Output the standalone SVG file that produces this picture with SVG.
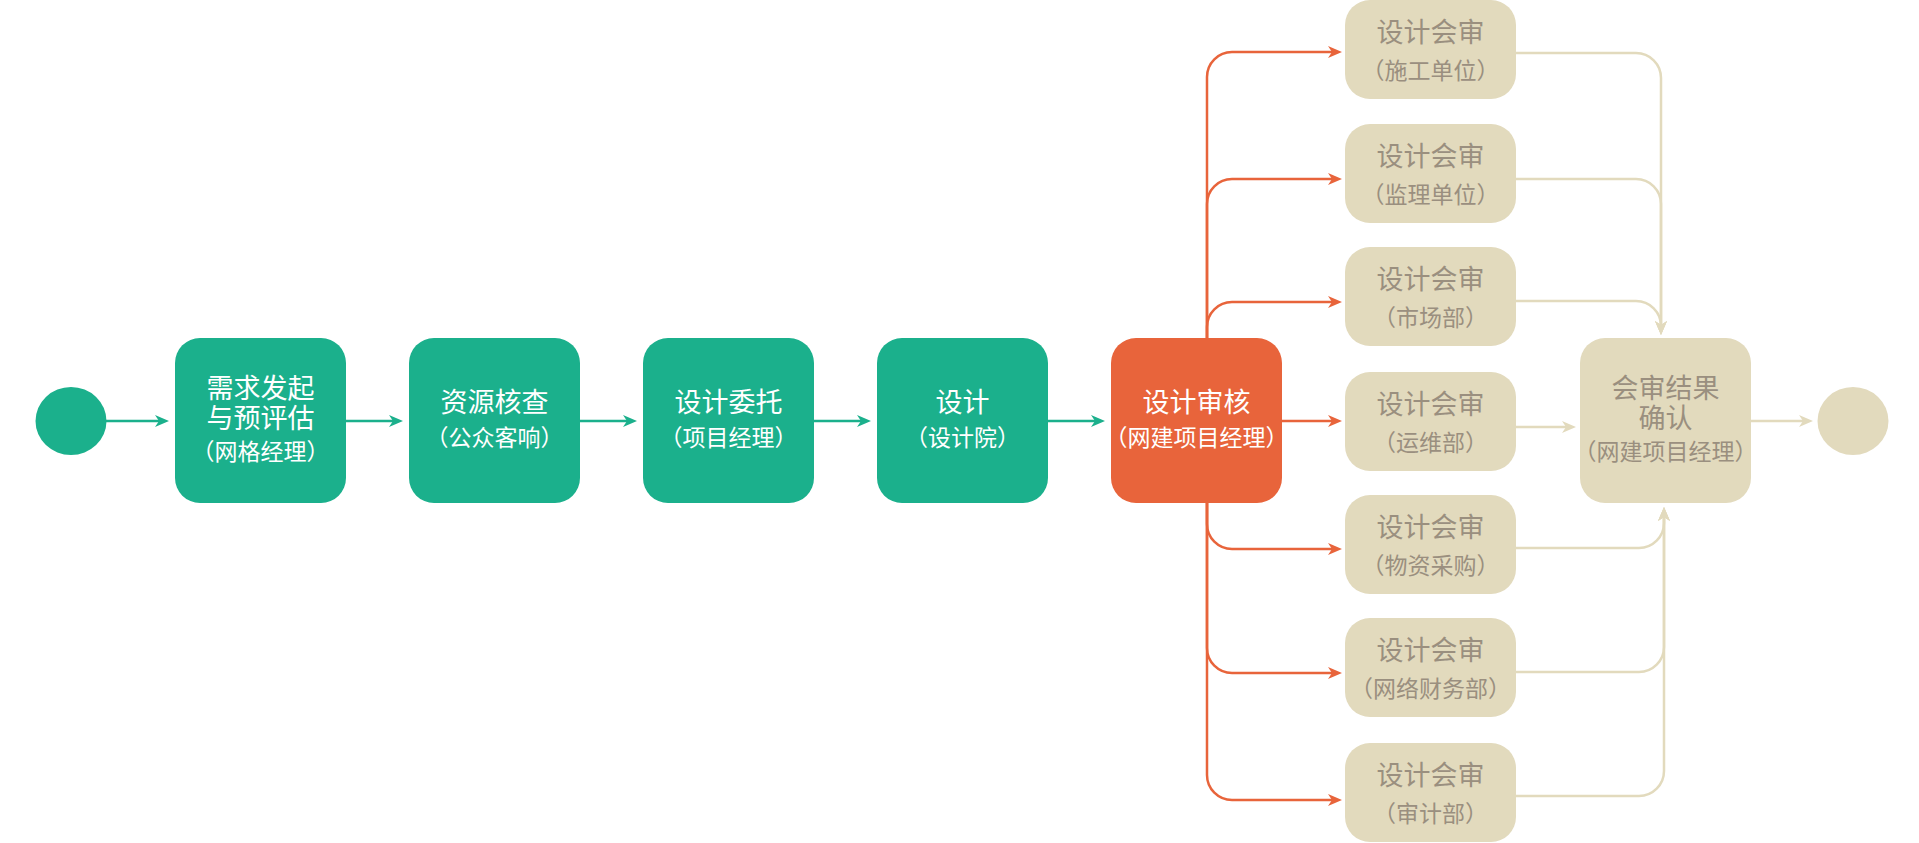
<svg xmlns="http://www.w3.org/2000/svg" width="1919" height="843" viewBox="0 0 1919 843">
  <style>
    .green { fill: #1bb08c; }
    .orange { fill: #e8643b; }
    .beige { fill: #e2dabd; }
    text { font-family: "Noto Sans CJK SC", "Noto Sans", sans-serif; text-anchor: middle; }
    .t { font-size: 27px; }
    .s { font-size: 23px; }
    .light { fill: #ffffff; }
    .dark { fill: #9a8f7f; }
    .ln { fill: none; stroke-width: 2.5; }
    .lg { stroke: #1bb08c; marker-end: url(#ag); }
    .lo { stroke: #e8643b; marker-end: url(#ao); }
    .lb { stroke: #e2dabd; marker-end: url(#ab); }
  </style>
  <defs>
    <marker id="ag" markerUnits="userSpaceOnUse" markerWidth="14" markerHeight="12" refX="6" refY="6" orient="auto">
      <path d="M0,0 L14,6 L0,12 L4,6 Z" fill="#1bb08c"/>
    </marker>
    <marker id="ao" markerUnits="userSpaceOnUse" markerWidth="14" markerHeight="12" refX="6" refY="6" orient="auto">
      <path d="M0,0 L14,6 L0,12 L4,6 Z" fill="#e8643b"/>
    </marker>
    <marker id="ab" markerUnits="userSpaceOnUse" markerWidth="14" markerHeight="12" refX="6" refY="6" orient="auto">
      <path d="M0,0 L14,6 L0,12 L4,6 Z" fill="#e2dabd"/>
    </marker>
  </defs>

  <rect width="1919" height="843" fill="#ffffff"/>

  <!-- connectors -->
  <g id="connectors">
    <!-- main flow -->
    <path class="ln lg" d="M106,421 H161"/>
    <path class="ln lg" d="M346,421 H395"/>
    <path class="ln lg" d="M580,421 H629"/>
    <path class="ln lg" d="M814,421 H863"/>
    <path class="ln lg" d="M1048,421 H1097"/>
    <!-- review fan-out -->
    <path class="ln lo" d="M1207,338 V77 A25,25 0 0 1 1232,52 H1334"/>
    <path class="ln lo" d="M1207,338 V204 A25,25 0 0 1 1232,179 H1334"/>
    <path class="ln lo" d="M1207,338 V327 A25,25 0 0 1 1232,302 H1334"/>
    <path class="ln lo" d="M1282,421 H1334"/>
    <path class="ln lo" d="M1207,503 V524 A25,25 0 0 0 1232,549 H1334"/>
    <path class="ln lo" d="M1207,503 V648 A25,25 0 0 0 1232,673 H1334"/>
    <path class="ln lo" d="M1207,503 V775 A25,25 0 0 0 1232,800 H1334"/>
    <!-- review fan-in -->
    <path class="ln lb" d="M1516,53 H1636 A25,25 0 0 1 1661,78 V327"/>
    <path class="ln lb" d="M1516,179 H1636 A25,25 0 0 1 1661,204 V327"/>
    <path class="ln lb" d="M1516,301 H1636 A25,25 0 0 1 1661,326 V327"/>
    <path class="ln lb" d="M1516,427 H1568"/>
    <path class="ln lb" d="M1516,548 H1639 A25,25 0 0 0 1664,523 V515"/>
    <path class="ln lb" d="M1516,672 H1639 A25,25 0 0 0 1664,647 V515"/>
    <path class="ln lb" d="M1516,796 H1639 A25,25 0 0 0 1664,771 V515"/>
    <!-- to end -->
    <path class="ln lb" d="M1751,421 H1805"/>
  </g>

  <!-- start / end -->
  <g id="start"><ellipse class="green" cx="71" cy="421" rx="35.5" ry="34"/></g>
  <g id="end"><ellipse class="beige" cx="1853" cy="421" rx="35.5" ry="34"/></g>

  <!-- main process -->
  <g id="n1">
    <rect class="green" x="175" y="338" width="171" height="165" rx="25"/>
    <text class="t light" x="260.5" y="398">需求发起<tspan x="260.5" dy="30">与预评估</tspan><tspan class="s" x="260.5" dy="32">（网格经理）</tspan></text>
  </g>
  <g id="n2">
    <rect class="green" x="409" y="338" width="171" height="165" rx="25"/>
    <text class="t light" x="494.5" y="412">资源核查</text>
    <text class="s light" x="494.5" y="446">（公众客响）</text>
  </g>
  <g id="n3">
    <rect class="green" x="643" y="338" width="171" height="165" rx="25"/>
    <text class="t light" x="728.5" y="412">设计委托</text>
    <text class="s light" x="728.5" y="446">（项目经理）</text>
  </g>
  <g id="n4">
    <rect class="green" x="877" y="338" width="171" height="165" rx="25"/>
    <text class="t light" x="962.5" y="412">设计</text>
    <text class="s light" x="962.5" y="446">（设计院）</text>
  </g>
  <g id="n5">
    <rect class="orange" x="1111" y="338" width="171" height="165" rx="25"/>
    <text class="t light" x="1196.5" y="412">设计审核</text>
    <text class="s light" x="1196.5" y="446">（网建项目经理）</text>
  </g>

  <!-- joint reviews -->
  <g id="r1">
    <rect class="beige" x="1345" y="0" width="171" height="99" rx="25"/>
    <text class="t dark" x="1430.5" y="42">设计会审</text>
    <text class="s dark" x="1430.5" y="79">（施工单位）</text>
  </g>
  <g id="r2">
    <rect class="beige" x="1345" y="124" width="171" height="99" rx="25"/>
    <text class="t dark" x="1430.5" y="166">设计会审</text>
    <text class="s dark" x="1430.5" y="203">（监理单位）</text>
  </g>
  <g id="r3">
    <rect class="beige" x="1345" y="247" width="171" height="99" rx="25"/>
    <text class="t dark" x="1430.5" y="289">设计会审</text>
    <text class="s dark" x="1430.5" y="326">（市场部）</text>
  </g>
  <g id="r4">
    <rect class="beige" x="1345" y="372" width="171" height="99" rx="25"/>
    <text class="t dark" x="1430.5" y="414">设计会审</text>
    <text class="s dark" x="1430.5" y="451">（运维部）</text>
  </g>
  <g id="r5">
    <rect class="beige" x="1345" y="495" width="171" height="99" rx="25"/>
    <text class="t dark" x="1430.5" y="537">设计会审</text>
    <text class="s dark" x="1430.5" y="574">（物资采购）</text>
  </g>
  <g id="r6">
    <rect class="beige" x="1345" y="618" width="171" height="99" rx="25"/>
    <text class="t dark" x="1430.5" y="660">设计会审</text>
    <text class="s dark" x="1430.5" y="697">（网络财务部）</text>
  </g>
  <g id="r7">
    <rect class="beige" x="1345" y="743" width="171" height="99" rx="25"/>
    <text class="t dark" x="1430.5" y="785">设计会审</text>
    <text class="s dark" x="1430.5" y="822">（审计部）</text>
  </g>

  <!-- result confirmation -->
  <g id="confirm">
    <rect class="beige" x="1580" y="338" width="171" height="165" rx="25"/>
    <text class="t dark" x="1665.5" y="398">会审结果<tspan x="1665.5" dy="30">确认</tspan><tspan class="s" x="1665.5" dy="32">（网建项目经理）</tspan></text>
  </g>
</svg>
